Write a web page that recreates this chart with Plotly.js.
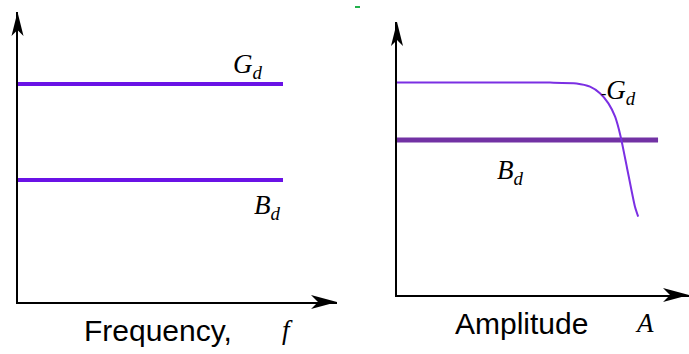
<!DOCTYPE html>
<html>
<head>
<meta charset="utf-8">
<script src="https://cdn.plot.ly/plotly-3.0.1.min.js"></script>
<style>
  html, body { margin: 0; padding: 0; background: #fff; }
  #graph { width: 689px; height: 354px; }
</style>
</head>
<body>
<div id="graph"></div>
<script>
  // left panel: Gd and Bd flat over frequency
  var freqX = [0, 8.31];
  var freqGd = [7.52, 7.52];
  var freqBd = [4.21, 4.21];

  // right panel: Gd rolls off with amplitude, Bd flat
  var ampX = [0, 5.24, 6.15, 6.61, 6.95, 7.24, 7.47, 7.66, 7.87, 8.15, 8.26];
  var ampGd = [7.78, 7.78, 7.75, 7.63, 7.39, 7.02, 6.53, 5.80, 4.70, 3.23, 2.87];
  var ampBdX = [0, 8.94];
  var ampBd = [5.68, 5.68];

  var W = 689, H = 354;
  var leftX = [17.5 / W, 337 / W], leftY = [52 / H, 342 / H];
  var rightX = [397 / W, 1], rightY = [59 / H, 332 / H];

  function lineTrace(x, y, color, width, xa, ya, shape) {
    return {
      type: 'scatter',
      mode: 'lines',
      x: x,
      y: y,
      xaxis: xa,
      yaxis: ya,
      hoverinfo: 'skip',
      line: {color: color, width: width, shape: shape || 'linear', smoothing: 0.6}
    };
  }

  var data = [
    lineTrace(freqX, freqGd, '#6a12e6', 4, 'x', 'y'),
    lineTrace(freqX, freqBd, '#6a12e6', 4, 'x', 'y'),
    lineTrace(ampBdX, ampBd, '#7232a4', 5, 'x2', 'y2'),
    lineTrace(ampX, ampGd, '#7b2fe3', 2, 'x2', 'y2', 'spline')
  ];

  function ax(domain) {
    return {
      domain: domain,
      range: [0, 10],
      showline: true,
      linecolor: '#000',
      linewidth: 2,
      showgrid: false,
      zeroline: false,
      showticklabels: false,
      ticks: '',
      fixedrange: true
    };
  }

  // arrow heads in pixels around a paper anchor (paper shapes are not clipped)
  function head(x, y, dir) {
    var p = dir === 'up'
      ? 'M0,0 L-6,-24 L0,-18 L6,-24 Z'
      : 'M0,0 L-26,7 L-19,0 L-26,-7 Z';
    return {
      type: 'path', xref: 'paper', yref: 'paper',
      xsizemode: 'pixel', ysizemode: 'pixel',
      xanchor: x, yanchor: y,
      path: p,
      fillcolor: '#000',
      line: {width: 0}
    };
  }

  var serif = {family: 'Liberation Serif, Times New Roman, serif', size: 27, color: '#000'};
  var sans = {family: 'Liberation Sans, Arial, sans-serif', size: 30, color: '#000'};

  function label(text, xref, yref, x, y, font) {
    return {text: text, xref: xref, yref: yref, x: x, y: y,
            showarrow: false, font: font, xanchor: 'center', yanchor: 'middle'};
  }

  var GD = '<i>G</i><sub><i>d</i></sub>';
  var BD = '<i>B</i><sub><i>d</i></sub>';

  var layout = {
    width: W,
    height: H,
    margin: {l: 0, r: 0, t: 0, b: 0},
    paper_bgcolor: '#fff',
    plot_bgcolor: '#fff',
    showlegend: false,
    xaxis: ax(leftX),
    yaxis: Object.assign(ax(leftY), {anchor: 'x'}),
    xaxis2: Object.assign(ax(rightX), {anchor: 'y2'}),
    yaxis2: Object.assign(ax(rightY), {anchor: 'x2'}),
    shapes: [
      head(leftX[0], leftY[1], 'up'),
      head(leftX[1], leftY[0], 'right'),
      head(rightX[0], rightY[1], 'up'),
      head(rightX[1], rightY[0], 'right'),
      {type: 'line', xref: 'paper', yref: 'paper',
       x0: 355 / W, x1: 360 / W, y0: 1 - 7 / H, y1: 1 - 7 / H,
       line: {color: '#22b14c', width: 2}}
    ],
    annotations: [
      label(GD, 'x', 'y', 7.21, 8.14, serif),
      label(BD, 'x', 'y', 7.81, 3.28, serif),
      label('Frequency,', 'x', 'paper', 4.40, 1 - 330 / H, sans),
      label('<i>f</i>', 'x', 'paper', 8.44, 1 - 330 / H, serif),
      label(BD, 'x2', 'y2', 3.90, 4.51, serif),
      label('<span style="font-size:16px">-</span>' + GD, 'x2', 'y2', 7.60, 7.44, serif),
      label('Amplitude', 'x2', 'paper', 4.28, 1 - 323 / H, sans),
      label('<i>A</i>', 'x2', 'paper', 8.49, 1 - 323 / H, serif)
    ]
  };

  Plotly.newPlot('graph', data, layout, {displayModeBar: false});
</script>
</body>
</html>
